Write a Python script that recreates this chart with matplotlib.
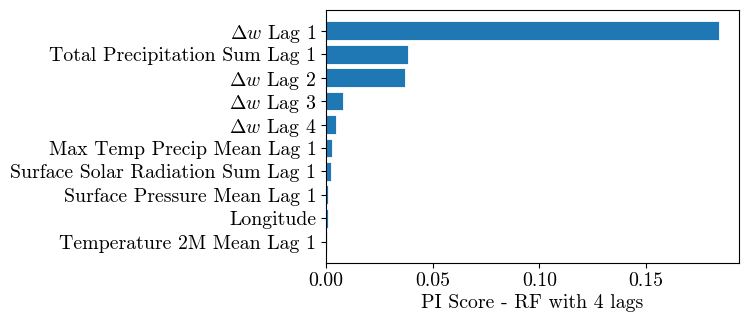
import matplotlib
matplotlib.use("Agg")
import matplotlib.pyplot as plt

plt.rcParams['font.family'] = 'serif'
plt.rcParams['font.serif'] = ['cmr10']
plt.rcParams['mathtext.fontset'] = 'cm'
plt.rcParams['axes.formatter.use_mathtext'] = True

features = [r"$\Delta w$ Lag 1", "Total Precipitation Sum Lag 1", r"$\Delta w$ Lag 2",
            r"$\Delta w$ Lag 3", r"$\Delta w$ Lag 4", "Max Temp Precip Mean Lag 1",
            "Surface Solar Radiation Sum Lag 1", "Surface Pressure Mean Lag 1",
            "Longitude", "Temperature 2M Mean Lag 1"]
scores = [0.1842, 0.0383, 0.0370, 0.0080, 0.0049, 0.0027, 0.0022, 0.0009, 0.0008, 0.0007]

fs = 14.3
fig = plt.figure(figsize=(7.48, 3.22), dpi=100)
ax = fig.add_axes([326/748, 1 - 262.5/322, (738.5-326)/748, (262.5-10)/322])
ypos = list(range(len(features)))[::-1]
ax.barh(ypos, scores, color='#1f77b4', edgecolor='white', linewidth=0.6)
ax.set_yticks(ypos)
ax.set_yticklabels(features, fontsize=fs)
ax.set_xticks([0, 0.05, 0.10, 0.15])
ax.set_xticklabels(["0.00", "0.05", "0.10", "0.15"], fontsize=fs)
ax.set_xlabel("PI Score - RF with 4 lags", fontsize=fs, labelpad=3)
fig.savefig("out.png", dpi=100)
